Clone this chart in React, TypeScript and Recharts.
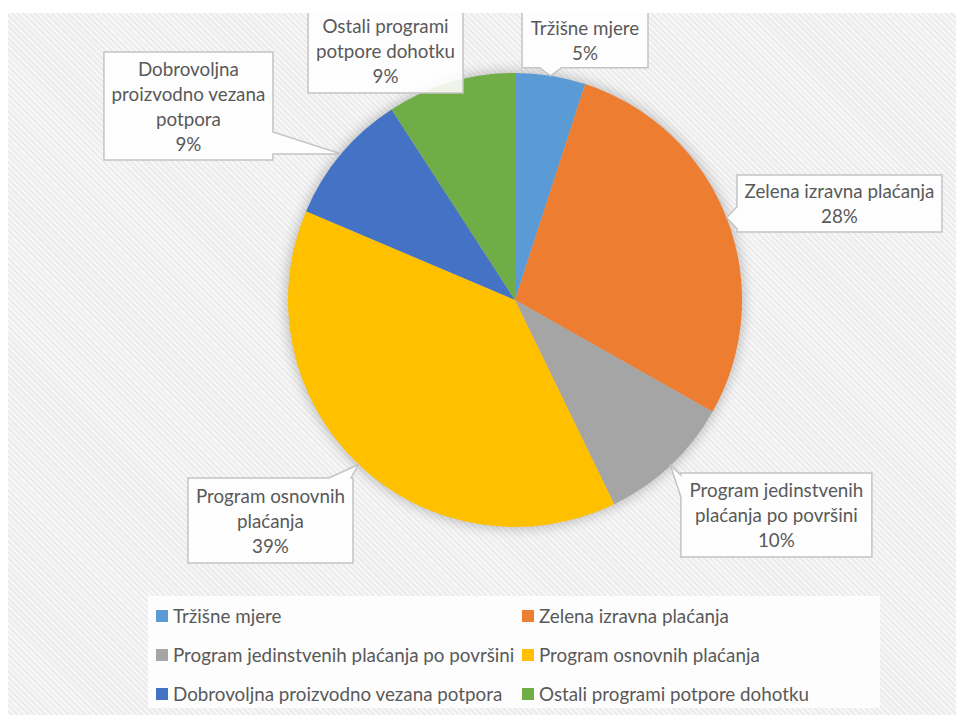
import React from 'react';
import { PieChart, Pie, Cell, Legend } from 'recharts';

const categories = [
  'Tržišne mjere',
  'Zelena izravna plaćanja',
  'Program jedinstvenih plaćanja po površini',
  'Program osnovnih plaćanja',
  'Dobrovoljna proizvodno vezana potpora',
  'Ostali programi potpore dohotku',
];
const shares = [5.0, 28.2, 9.6, 38.6, 9.45, 9.15];
const labelLines = [
  ['Tržišne mjere'],
  ['Zelena izravna plaćanja'],
  ['Program jedinstvenih', 'plaćanja po površini'],
  ['Program osnovnih', 'plaćanja'],
  ['Dobrovoljna', 'proizvodno vezana', 'potpora'],
  ['Ostali programi', 'potpore dohotku'],
];
const colors = ['#5B9BD5', '#ED7D31', '#A5A5A5', '#FFC000', '#4472C4', '#70AD47'];

// callout box layout relative to the slice's rim point: dx, dy (box center), w, h
const boxLayout = [
  { dx: 34.5, dy: -36, w: 126, h: 56 },
  { dx: 112.9, dy: -14.3, w: 205, h: 57 },
  { dx: 106, dy: 49.5, w: 191, h: 84 },
  { dx: -88.1, dy: 56, w: 165, h: 85 },
  { dx: -152.8, dy: -47.9, w: 169, h: 108 },
  { dx: -65.1, dy: -32.3, w: 155, h: 86 },
];

const data = categories.map((name, i) => ({ name, value: shares[i], lines: labelLines[i] }));

const FONT = 'Lato, "Open Sans", sans-serif';
const TEXT = '#595959';
const RAD = Math.PI / 180;

function calloutPath(x0: number, y0: number, x1: number, y1: number, ax: number, ay: number) {
  const outR = ax - x1, outL = x0 - ax, outT = y0 - ay, outB = ay - y1;
  const m = Math.max(outR, outL, outT, outB);
  let side = 'none';
  if (m > 0) {
    if (m === outR) side = 'right';
    else if (m === outL) side = 'left';
    else if (m === outT) side = 'top';
    else side = 'bottom';
  }
  const base = 22;
  const clamp = (v: number, a: number, b: number) => Math.max(a, Math.min(b, v));
  let p = `M${x0},${y0}`;
  if (side === 'top') {
    const b1 = clamp(ax - base, x0 + 2, x1 - 2 - base);
    p += ` L${b1},${y0} L${ax},${ay} L${b1 + base},${y0}`;
  }
  p += ` L${x1},${y0}`;
  if (side === 'right') {
    const b1 = clamp(ay - base, y0 + 2, y1 - 2 - base);
    p += ` L${x1},${b1} L${ax},${ay} L${x1},${b1 + base}`;
  }
  p += ` L${x1},${y1}`;
  if (side === 'bottom') {
    const b1 = clamp(ax - base / 2, x0 + 2, x1 - 2 - base);
    p += ` L${b1 + base},${y1} L${ax},${ay} L${b1},${y1}`;
  }
  p += ` L${x0},${y1}`;
  if (side === 'left') {
    const b1 = clamp(ay - base / 2, y0 + 2, y1 - 2 - base);
    p += ` L${x0},${b1 + base} L${ax},${ay} L${x0},${b1}`;
  }
  return p + ' Z';
}

const renderLabel = (props: any) => {
  const { cx, cy, midAngle, outerRadius, index, percent } = props;
  const ax = cx + outerRadius * Math.cos(-midAngle * RAD);
  const ay = cy + outerRadius * Math.sin(-midAngle * RAD);
  const L = boxLayout[index];
  const bx = ax + L.dx, by = ay + L.dy;
  const x0 = bx - L.w / 2, x1 = bx + L.w / 2, y0 = by - L.h / 2, y1 = by + L.h / 2;
  const lines = [...data[index].lines, `${Math.round(percent * 100)}%`];
  const lh = 25;
  const startY = by - ((lines.length - 1) * lh) / 2;
  return (
    <g key={`lbl-${index}`}>
      <path d={calloutPath(x0, y0, x1, y1, ax, ay)} fill="#ffffff" fillOpacity={0.88} stroke="#c4c4c4" strokeWidth={1.5} />
      {lines.map((t, i) => (
        <text key={i} x={bx} y={startY + i * lh} textAnchor="middle" dominantBaseline="central" fontFamily={FONT} fontSize={18.8} fill={TEXT}>
          {t}
        </text>
      ))}
    </g>
  );
};

const renderLegend = () => (
  <div style={{ display: 'grid', gridTemplateColumns: '366px 360px', paddingLeft: 8, paddingTop: 0 }}>
    {data.map((d, i) => (
      <div key={d.name} style={{ display: 'flex', alignItems: 'center', height: 39, fontFamily: FONT, fontSize: 18.8, color: TEXT, whiteSpace: 'nowrap' }}>
        <span style={{ display: 'inline-block', width: 12, height: 12, background: colors[i], marginRight: 5 }} />
        {d.name}
      </div>
    ))}
  </div>
);

export default function App() {
  return (
    <div style={{ position: 'absolute', left: 0, top: 0, width: 956, height: 715, background: '#ffffff', overflow: 'hidden' }}>
      <div
        style={{
          position: 'absolute', left: 8, top: 13, width: 948, height: 702,
          background: 'repeating-linear-gradient(45deg, #f7f7f7 0px, #f7f7f7 2px, #ececec 2px, #ececec 4px)',
        }}
      />
      <div style={{ position: 'absolute', left: 0, top: 0 }}>
        <PieChart width={956} height={715} margin={{ top: 0, right: 0, bottom: 0, left: 0 }}>
          <Pie
            data={data}
            dataKey="value"
            nameKey="name"
            cx={515}
            cy={300}
            outerRadius={229}
            startAngle={90}
            endAngle={-270}
            stroke="none"
            legendType="none"
            isAnimationActive={false}
          >
            {data.map((d) => (
              <Cell key={`sh-${d.name}`} fill="#000000" fillOpacity={0.22} style={{ filter: 'blur(6px)' }} />
            ))}
          </Pie>
          <Pie
            data={data}
            dataKey="value"
            nameKey="name"
            cx={515}
            cy={300}
            outerRadius={227}
            startAngle={90}
            endAngle={-270}
            stroke="none"
            label={renderLabel}
            labelLine={false}
            isAnimationActive={false}
          >
            {data.map((d, i) => (
              <Cell key={d.name} fill={colors[i]} />
            ))}
          </Pie>
          <Legend
            content={renderLegend}
            wrapperStyle={{ position: 'absolute', left: 148, top: 596, width: 732, height: 112, background: 'rgba(255,255,255,0.85)', bottom: 'auto' }}
          />
        </PieChart>
      </div>
      <div style={{ position: 'absolute', left: 0, top: 0, width: 956, height: 13, background: '#ffffff' }} />
    </div>
  );
}
